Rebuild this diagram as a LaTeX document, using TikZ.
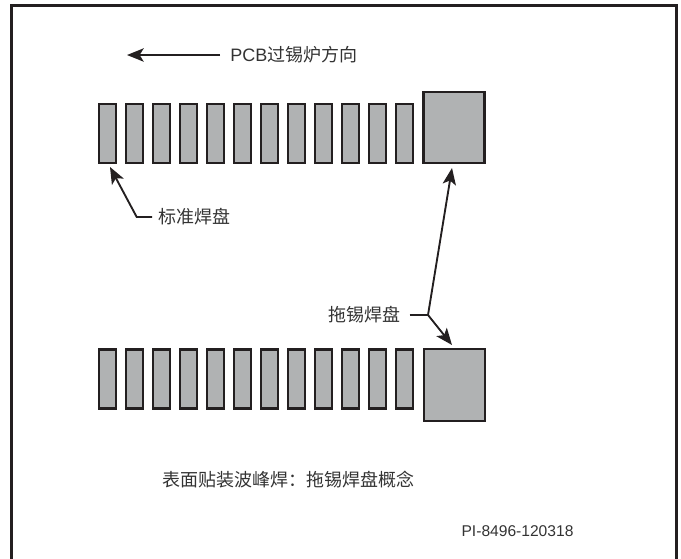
\documentclass[tikz,border=0pt]{standalone}
\usepackage{fontspec}
\setmainfont{Liberation Sans}
\newfontfamily\cjk{Noto Sans CJK SC}
\usetikzlibrary{arrows.meta}
\definecolor{padfill}{HTML}{B0B2B3}
\definecolor{ink}{HTML}{231F20}
\definecolor{txt}{HTML}{333333}
\tikzset{
  padbox/.style={draw=ink, fill=padfill, line width=1.6pt, inner sep=0pt,
    minimum width=12.75pt, minimum height=44.25pt},
  bigpad/.style={draw=ink, fill=padfill, line width=1.6pt, inner sep=0pt,
    minimum width=45.75pt},
  arr/.style={draw=ink, line width=1.4pt, -{Stealth[length=12.5pt,width=10pt,inset=3pt]}},
  plain/.style={draw=ink, line width=1.4pt},
  lbl/.style={text=txt, inner sep=0pt, font=\fontsize{13.5pt}{15pt}\selectfont},
}
\begin{document}
\begin{tikzpicture}[x=0.75pt,y=-0.75pt]
\useasboundingbox (0,0) rectangle (681,558);
% frame
\draw[ink, line width=1.6pt] (11.5,562) -- (11.5,5.5) -- (676.5,5.5) -- (676.5,562);
% direction arrow
\node[lbl, anchor=west] (dir) at (230,55) {PCB{\cjk 过锡炉方向}};
\coordinate (dirtip) at (127,55);
\draw[arr] ([xshift=-7.5pt]dir.west) -- (dirtip);
% top row
\foreach \i in {0,...,11} {
  \node[padbox] (t\i) at ({107.8+27*\i},133.5) {};
}
\node[bigpad, minimum height=53.25pt] (tb) at (454,127.6) {};
% bottom row
\foreach \i in {0,...,11} {
  \node[padbox] (b\i) at ({107.8+27*\i},379) {};
}
\node[bigpad, minimum height=54pt] (bb) at (454.5,385) {};
% standard pad label
\node[lbl, anchor=west] (std) at (158,217) {\cjk 标准焊盘};
\coordinate (stdk) at (136.7,217);
\coordinate (stdtip) at (110,167);
\draw[arr] ([xshift=-4.5pt]std.west) -- (stdk) -- (stdtip);
% drag pad label
\node[lbl] (drag) at (364,315) {\cjk 拖锡焊盘};
\coordinate (dj) at (428,315);
\coordinate (uptip) at (452,168);
\coordinate (dntip) at (452,345);
\draw[plain] ([xshift=7pt]drag.east) -- (dj);
\draw[arr] (dj) -- (uptip);
\draw[arr] (dj) -- (dntip);
% title and id
\node[lbl] (title) at (288.5,480) {\cjk 表面贴装波峰焊：拖锡焊盘概念};
\node[text=txt, inner sep=0pt, font=\fontsize{11.7pt}{13pt}\selectfont] (pid) at (517.5,531) {PI-8496-120318};
\end{tikzpicture}
\end{document}
